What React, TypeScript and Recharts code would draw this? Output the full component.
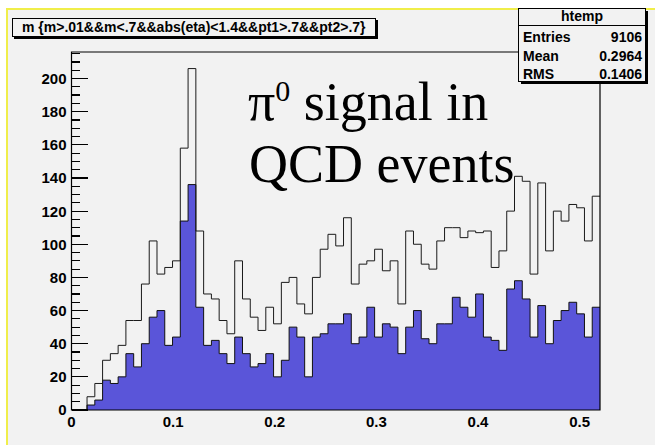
import React from 'react';
import { ComposedChart, Area, XAxis, YAxis, ReferenceArea, ReferenceLine } from 'recharts';

// Histogram binning: 68 equal bins from 0 to 0.52
const X_MAX = 0.52;
const N_BINS = 68;
const Y_MAX = 216;

// Entries per bin, all photon pairs (open histogram)
const allPairs = [
  0, 0, 8, 16, 30, 34, 39, 54, 54, 76,
  102, 82, 86, 90, 158, 206, 108, 70, 67, 54,
  46, 90, 67, 56, 48, 62, 52, 77, 80, 64,
  58, 80, 97, 106, 99, 116, 76, 88, 90, 97,
  84, 90, 64, 108, 100, 88, 85, 102, 110, 110,
  104, 108, 107, 108, 86, 96, 120, 141, 138, 82,
  137, 96, 120, 114, 124, 122, 102, 129,
];

// Entries per bin after the extra selection (filled histogram)
const selectedPairs = [
  0, 0, 3, 6, 18, 16, 20, 34, 26, 40,
  56, 60, 39, 44, 114, 136, 62, 39, 42, 34,
  28, 44, 34, 26, 28, 34, 20, 30, 50, 44,
  20, 44, 46, 52, 52, 58, 40, 44, 62, 44,
  52, 50, 34, 50, 60, 43, 40, 52, 52, 68,
  62, 56, 70, 44, 42, 36, 73, 78, 67, 44,
  63, 40, 54, 60, 65, 58, 44, 62,
];

const xTicks = [0, 0.1, 0.2, 0.3, 0.4, 0.5];
const xTickLabels = ['0', '0.1', '0.2', '0.3', '0.4', '0.5'];
const yMajorTicks = [0, 20, 40, 60, 80, 100, 120, 140, 160, 180, 200];
const Y_MINOR_STEP = 5;

const histTitle = 'm {m>.01&&m<.7&&abs(eta)<1.4&&pt1>.7&&pt2>.7}';
const statsName = 'htemp';
const statsLabels = ['Entries', 'Mean', 'RMS'];
const statsValues = ['9106', '0.2964', '0.1406'];

// step table: one point at each bin's low edge, plus the closing upper edge
const rows = allPairs.map((v, i) => ({
  x: (i * X_MAX) / N_BINS,
  all: v,
  sel: selectedPairs[i],
}));
rows.push({ x: X_MAX, all: allPairs[N_BINS - 1], sel: selectedPairs[N_BINS - 1] });

const yTicks: number[] = [];
for (let v = 0; v < Y_MAX; v += Y_MINOR_STEP) yTicks.push(v);

const AXIS_FONT = '"Liberation Sans", Arial, Helvetica, sans-serif';
const SERIF = '"Liberation Serif", "Times New Roman", serif';

// y-axis label, drawn outside the frame
const YTick = (props: any) => {
  const x = Number(props.x);
  const y = Number(props.y);
  const v = Number(props.payload.value);
  if (!yMajorTicks.includes(v)) return <g />;
  return (
    <text
      x={x - 5}
      y={y}
      dy="0.36em"
      textAnchor="end"
      fontFamily={AXIS_FONT}
      fontWeight="bold"
      fontSize={15}
      fill="#000"
    >
      {v}
    </text>
  );
};

const XTick = (props: any) => {
  const x = Number(props.x);
  const y = Number(props.y);
  const idx = xTicks.indexOf(props.payload.value);
  return (
    <text
      x={x}
      y={y + 4}
      dy="0.71em"
      textAnchor="middle"
      fontFamily={AXIS_FONT}
      fontWeight="bold"
      fontSize={15}
      fill="#000"
    >
      {idx >= 0 ? xTickLabels[idx] : props.payload.value}
    </text>
  );
};

// short tick mark pointing into the frame from the left axis
const innerTick = (len: number) => (p: any) => {
  const x1 = Number(p.x1);
  const y1 = Number(p.y1);
  return (
    <line
      x1={x1}
      x2={x1 + len}
      y1={y1}
      y2={y1}
      stroke="#000"
      strokeWidth={1.2}
      shapeRendering="crispEdges"
    />
  );
};

export default function App() {
  return (
    <div
      style={{
        position: 'absolute',
        left: 0,
        top: 0,
        width: 655,
        height: 445,
        background: '#ffffff',
        overflow: 'hidden',
      }}
    >
      <div
        style={{
          position: 'absolute',
          left: 6,
          top: 8,
          width: 655,
          height: 445,
          background: '#f2f2f2',
          borderLeft: '2px solid #f0ee4a',
          borderTop: '2px solid #f0ee4a',
        }}
      />
      <div style={{ position: 'absolute', left: 0, top: 0 }}>
        <ComposedChart
          width={655}
          height={445}
          data={rows}
          margin={{ top: 52, right: 55, bottom: 0, left: 11.5 }}
        >
          <XAxis
            dataKey="x"
            type="number"
            domain={[0, X_MAX]}
            ticks={xTicks}
            interval={0}
            tickLine={false}
            axisLine={false}
            tickSize={0}
            tick={<XTick />}
            height={35}
            allowDataOverflow
          />
          <YAxis
            type="number"
            domain={[0, Y_MAX]}
            ticks={yTicks}
            interval={0}
            tickLine={false}
            axisLine={false}
            tickSize={0}
            tickMargin={0}
            tick={<YTick />}
            width={60}
            allowDataOverflow
          />
          <Area
            type="stepAfter"
            dataKey="sel"
            stroke="#111"
            strokeWidth={1}
            fill="#5a55d9"
            fillOpacity={1}
            baseValue={0}
            dot={false}
            activeDot={false}
            isAnimationActive={false}
          />
          <Area
            type="stepAfter"
            dataKey="all"
            stroke="#1a1a1a"
            strokeWidth={1}
            fill="none"
            baseValue={0}
            dot={false}
            activeDot={false}
            isAnimationActive={false}
          />
          {yTicks.map((v) => (
            <ReferenceLine
              key={v}
              y={v}
              stroke="#000"
              shape={innerTick(yMajorTicks.includes(v) ? 16 : 8)}
            />
          ))}
          <ReferenceArea
            x1={0}
            x2={X_MAX}
            y1={0}
            y2={Y_MAX}
            fill="none"
            stroke="#000"
            strokeWidth={1.2}
            ifOverflow="visible"
          />
        </ComposedChart>
      </div>
      <svg
        width={655}
        height={445}
        style={{ position: 'absolute', left: 0, top: 0, pointerEvents: 'none' }}
      >
        {/* title box */}
        <rect x={14} y={20} width={364} height={19} fill="#000" />
        <rect x={12.5} y={18.5} width={363} height={18} fill="#f2f2f2" stroke="#000" strokeWidth={1} />
        <text
          x={22}
          y={31.5}
          fontFamily={AXIS_FONT}
          fontWeight="bold"
          fontSize={14}
          fill="#000"
        >
          {histTitle}
        </text>

        {/* statistics box */}
        <rect x={521} y={11} width={127} height={73} fill="#000" />
        <rect x={518.5} y={8.5} width={127} height={73} fill="#f2f2f2" stroke="#000" strokeWidth={1} />
        <text
          x={582}
          y={21}
          textAnchor="middle"
          fontFamily={AXIS_FONT}
          fontWeight="bold"
          fontSize={14}
          fill="#000"
        >
          {statsName}
        </text>
        <line x1={518.5} x2={645.5} y1={25.5} y2={25.5} stroke="#000" strokeWidth={1} />
        {statsLabels.map((lab, i) => (
          <g key={lab}>
            <text
              x={523}
              y={42 + i * 18.5}
              fontFamily={AXIS_FONT}
              fontWeight="bold"
              fontSize={14}
              fill="#000"
            >
              {lab}
            </text>
            <text
              x={642}
              y={42 + i * 18.5}
              textAnchor="end"
              fontFamily={AXIS_FONT}
              fontWeight="bold"
              fontSize={14}
              fill="#000"
            >
              {statsValues[i]}
            </text>
          </g>
        ))}

        {/* annotation */}
        <text x={248} y={120} fontFamily={SERIF} fontSize={54} fill="#000">
          π
          <tspan fontSize={30} dy={-19}>0</tspan>
          <tspan dy={19}> signal in</tspan>
        </text>
        <text x={249} y={182} fontFamily={SERIF} fontSize={54} fill="#000">
          QCD events
        </text>
      </svg>
    </div>
  );
}
